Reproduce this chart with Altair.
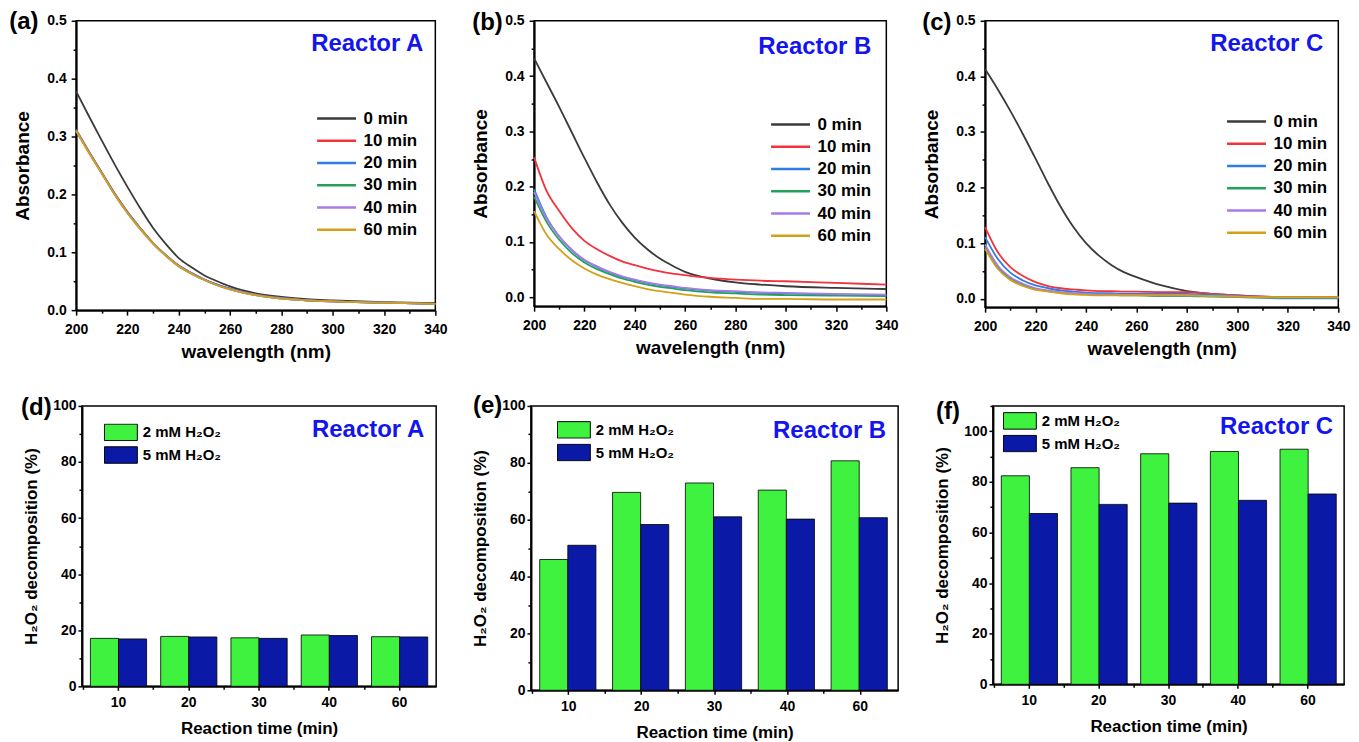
import altair as alt
import pandas as pd

FONT = "Liberation Sans"

# ---------------- data: UV-vis spectra ----------------
wavelengths = [200, 205, 210, 215, 220, 225, 230, 235, 240, 245, 250, 255, 260, 270, 280, 290, 300, 320, 340]
times = ["0 min", "10 min", "20 min", "30 min", "40 min", "60 min"]
line_colors = ["#3a3a3a", "#f2323c", "#2f7de1", "#23a15a", "#a77be8", "#d4a019"]

# Reactor A
absA_0 = [0.378, 0.335, 0.293, 0.252, 0.213, 0.176, 0.142, 0.114, 0.090, 0.074, 0.060, 0.050, 0.041, 0.029, 0.023, 0.019, 0.017, 0.014, 0.012]
absA_10 = [0.312, 0.274, 0.238, 0.202, 0.170, 0.142, 0.116, 0.095, 0.077, 0.064, 0.053, 0.044, 0.037, 0.027, 0.021, 0.017, 0.015, 0.013, 0.011]
absA_20 = [0.311, 0.273, 0.237, 0.201, 0.169, 0.141, 0.116, 0.095, 0.077, 0.064, 0.053, 0.044, 0.037, 0.027, 0.021, 0.017, 0.015, 0.013, 0.011]
absA_30 = [0.311, 0.273, 0.237, 0.201, 0.169, 0.141, 0.115, 0.094, 0.076, 0.063, 0.052, 0.043, 0.036, 0.026, 0.020, 0.017, 0.015, 0.013, 0.011]
absA_40 = [0.310, 0.272, 0.236, 0.200, 0.168, 0.140, 0.115, 0.094, 0.076, 0.063, 0.052, 0.043, 0.036, 0.026, 0.020, 0.017, 0.015, 0.013, 0.011]
absA_60 = [0.310, 0.272, 0.236, 0.200, 0.168, 0.140, 0.115, 0.094, 0.076, 0.063, 0.052, 0.043, 0.036, 0.026, 0.020, 0.017, 0.015, 0.013, 0.011]

# Reactor B
absB_0 = [0.432, 0.388, 0.344, 0.298, 0.252, 0.208, 0.168, 0.135, 0.108, 0.087, 0.070, 0.057, 0.046, 0.034, 0.027, 0.023, 0.020, 0.017, 0.015]
absB_10 = [0.253, 0.192, 0.156, 0.125, 0.102, 0.087, 0.075, 0.065, 0.058, 0.052, 0.047, 0.043, 0.040, 0.035, 0.032, 0.030, 0.029, 0.026, 0.023]
absB_20 = [0.195, 0.144, 0.110, 0.085, 0.067, 0.055, 0.045, 0.037, 0.031, 0.026, 0.022, 0.019, 0.016, 0.012, 0.010, 0.008, 0.007, 0.005, 0.003]
absB_30 = [0.182, 0.136, 0.104, 0.080, 0.063, 0.051, 0.042, 0.034, 0.028, 0.023, 0.019, 0.016, 0.013, 0.009, 0.007, 0.005, 0.004, 0.003, 0.002]
absB_40 = [0.190, 0.142, 0.110, 0.086, 0.068, 0.056, 0.046, 0.038, 0.032, 0.027, 0.023, 0.020, 0.017, 0.013, 0.011, 0.009, 0.008, 0.006, 0.005]
absB_60 = [0.156, 0.113, 0.087, 0.067, 0.052, 0.041, 0.033, 0.026, 0.020, 0.015, 0.011, 0.008, 0.005, 0.001, -0.001, -0.003, -0.003, -0.004, -0.004]

# Reactor C
absC_0 = [0.413, 0.377, 0.338, 0.296, 0.252, 0.207, 0.165, 0.129, 0.100, 0.078, 0.061, 0.048, 0.039, 0.024, 0.014, 0.009, 0.006, 0.003, 0.003]
absC_10 = [0.129, 0.084, 0.057, 0.041, 0.030, 0.023, 0.019, 0.017, 0.015, 0.014, 0.014, 0.013, 0.013, 0.012, 0.012, 0.009, 0.006, 0.003, 0.003]
absC_20 = [0.111, 0.072, 0.047, 0.033, 0.024, 0.019, 0.015, 0.013, 0.011, 0.010, 0.010, 0.009, 0.009, 0.009, 0.009, 0.007, 0.005, 0.003, 0.002]
absC_30 = [0.093, 0.057, 0.037, 0.025, 0.018, 0.014, 0.011, 0.009, 0.008, 0.007, 0.007, 0.006, 0.006, 0.005, 0.005, 0.004, 0.003, 0.001, 0.001]
absC_40 = [0.098, 0.060, 0.039, 0.027, 0.019, 0.015, 0.012, 0.010, 0.009, 0.008, 0.008, 0.007, 0.007, 0.006, 0.006, 0.005, 0.004, 0.002, 0.002]
absC_60 = [0.090, 0.054, 0.034, 0.023, 0.016, 0.013, 0.010, 0.008, 0.007, 0.006, 0.006, 0.006, 0.006, 0.006, 0.006, 0.005, 0.004, 0.003, 0.003]

# ---------------- data: H2O2 decomposition ----------------
bar_times = ["10", "20", "30", "40", "60"]
concs = ["2 mM H₂O₂", "5 mM H₂O₂"]
bar_colors = ["#3ff23f", "#0b1aa6"]

decA_2 = [17.1, 17.8, 17.3, 18.3, 17.7]
decA_5 = [16.9, 17.6, 17.1, 18.1, 17.6]
decB_2 = [46.0, 69.6, 72.9, 70.4, 80.7]
decB_5 = [51.0, 58.3, 61.0, 60.2, 60.7]
decC_2 = [82.4, 85.6, 91.1, 92.0, 92.9]
decC_5 = [67.5, 71.1, 71.6, 72.7, 75.2]

REACTOR_BLUE = "#1414ee"


def spectra_df(series):
    rows = []
    for t, vals in zip(times, series):
        for w, v in zip(wavelengths, vals):
            rows.append({"wl": w, "abs": v, "time": t})
    return pd.DataFrame(rows)


def bar_df(g, b):
    rows = []
    for t, gv, bv in zip(bar_times, g, b):
        rows.append({"time": t, "conc": concs[0], "val": gv})
        rows.append({"time": t, "conc": concs[1], "val": bv})
    return pd.DataFrame(rows)


def text_layer(txt, x, y, size, color, align):
    return alt.Chart(pd.DataFrame({"t": [txt]})).mark_text(
        align=align, baseline="middle", font=FONT, fontSize=size,
        fontWeight="bold", color=color
    ).encode(text="t:N", x=alt.value(x), y=alt.value(y))


def line_panel(series, ymin, label, reactor, w, h, lx, ly, lab_pos, r_pos):
    df = spectra_df(series)
    base = alt.Chart(df)
    xscale = alt.Scale(domain=[200, 340], nice=False, zero=False)
    yscale = alt.Scale(domain=[ymin, 0.5], nice=False, zero=False)
    lines = base.mark_line(strokeWidth=1.8, interpolate="monotone").encode(
        x=alt.X("wl:Q", scale=xscale,
                axis=alt.Axis(values=list(range(200, 341, 20)), title="wavelength (nm)",
                              labelFlush=False, tickSize=5, labelPadding=7,
                              titlePadding=6, titleFontSize=19, orient="bottom")),
        y=alt.Y("abs:Q", scale=yscale,
                axis=alt.Axis(values=[0.0, 0.1, 0.2, 0.3, 0.4, 0.5], format=".1f",
                              title="Absorbance", tickSize=5, labelPadding=5,
                              titlePadding=14, titleFontSize=19, orient="left")),
        color=alt.Color("time:N", scale=alt.Scale(domain=times, range=line_colors),
                        legend=alt.Legend(title=None, orient="none", legendX=lx, legendY=ly,
                                          symbolType="stroke", symbolSize=1521,
                                          symbolStrokeWidth=2.5, labelFontSize=17,
                                          labelFont=FONT, labelFontWeight="bold",
                                          labelColor="black", labelOffset=6,
                                          clipHeight=20, rowPadding=2.3)),
    )
    minor = base.mark_line(opacity=0).encode(
        x=alt.X("wl:Q", scale=xscale,
                axis=alt.Axis(values=list(range(210, 340, 20)), labels=False, title=None,
                              tickSize=3, domain=False, orient="bottom")),
        y=alt.Y("abs:Q", scale=yscale,
                axis=alt.Axis(values=[0.05, 0.15, 0.25, 0.35, 0.45], labels=False, title=None,
                              tickSize=3, domain=False, orient="left")),
    )
    lab = text_layer(label, lab_pos[0], lab_pos[1], 24, "black", "left")
    rlab = text_layer(reactor, w - r_pos[0], r_pos[1], 24, REACTOR_BLUE, "right")
    return alt.layer(lines, minor, lab, rlab).resolve_axis(
        x="independent", y="independent"
    ).properties(width=w, height=h)


def bar_panel(g, b, ymax, label, reactor, w, h, lx, ly, lab_pos, r_pos):
    df = bar_df(g, b)
    base = alt.Chart(df)
    xscale = alt.Scale(paddingInner=0.2, paddingOuter=0.12)
    yscale = alt.Scale(domain=[0, ymax], nice=False, zero=True)
    bars = base.mark_bar(stroke="black", strokeWidth=0.8).encode(
        x=alt.X("time:N", sort=bar_times, scale=xscale,
                axis=alt.Axis(labelAngle=0, title="Reaction time (min)", tickSize=4,
                              labelPadding=5, titlePadding=11, titleFontSize=17,
                              orient="bottom")),
        xOffset=alt.XOffset("conc:N", sort=concs, scale=alt.Scale(paddingInner=0, paddingOuter=0)),
        y=alt.Y("val:Q", scale=yscale,
                axis=alt.Axis(values=[0, 20, 40, 60, 80, 100], title="H₂O₂ decomposition (%)",
                              tickSize=4, labelPadding=2, titlePadding=12,
                              titleFontSize=17, orient="left")),
        color=alt.Color("conc:N", scale=alt.Scale(domain=concs, range=bar_colors),
                        legend=alt.Legend(title=None, orient="none", legendX=lx, legendY=ly,
                                          symbolType="M-1,-0.5H1V0.5H-1Z", symbolSize=1089,
                                          symbolStrokeColor="black", symbolStrokeWidth=1,
                                          symbolOpacity=1,
                                          labelFontSize=15, labelFont=FONT,
                                          labelFontWeight="bold", labelColor="black",
                                          labelOffset=5, clipHeight=18, rowPadding=4.7)),
    )
    minor_vals = [v for v in range(10, int(ymax) + 1, 20)]
    # minor ticks: between categories on x, at odd tens on y
    minor = base.mark_bar(opacity=0).encode(
        x=alt.X("time:N", sort=bar_times, scale=xscale,
                axis=alt.Axis(bandPosition=-0.125, labels=False, title=None, tickSize=3,
                              domain=False, orient="bottom")),
        xOffset=alt.XOffset("conc:N", sort=concs),
        y=alt.Y("val:Q", scale=yscale,
                axis=alt.Axis(values=minor_vals, labels=False, title=None, tickSize=3,
                              domain=False, orient="left")),
    )
    lab = text_layer(label, lab_pos[0], lab_pos[1], 24, "black", "left")
    rlab = text_layer(reactor, w - r_pos[0], r_pos[1], 24, REACTOR_BLUE, "right")
    return alt.layer(bars, minor, lab, rlab).resolve_axis(
        x="independent", y="independent"
    ).properties(width=w, height=h)


pa = line_panel([absA_0, absA_10, absA_20, absA_30, absA_40, absA_60], 0.0, "(a)", "Reactor A",
                360, 290, 240, 88, (-67, 1), (12, 23))
pb = line_panel([absB_0, absB_10, absB_20, absB_30, absB_40, absB_60], -0.016, "(b)", "Reactor B",
                353, 286, 236, 94, (-62, 2), (15, 26))
pc = line_panel([absC_0, absC_10, absC_20, absC_30, absC_40, absC_60], -0.015, "(c)", "Reactor C",
                354, 287, 241, 91, (-63, 2), (15, 23))

pd_ = bar_panel(decA_2, decA_5, 100, "(d)", "Reactor A", 355, 281, 22, 17.5, (-61, 2), (12, 24))
pe = bar_panel(decB_2, decB_5, 100, "(e)", "Reactor B", 368, 285, 26, 15, (-58, 0), (12, 25))
pf = bar_panel(decC_2, decC_5, 110, "(f)", "Reactor C", 352, 279, 10, 6, (-57, 6), (11, 21))

row1 = alt.hconcat(pa, pb, pc, spacing=22).resolve_scale(color="independent")
row2 = alt.hconcat(pd_, pe, pf, spacing=33).resolve_scale(color="independent")

chart = alt.vconcat(row1, row2, spacing=31, center=True).resolve_scale(
    color="independent"
).properties(
    padding={"left": 0, "top": 0, "right": 0, "bottom": 0}
).configure_view(
    stroke="black", strokeWidth=1.5
).configure_axis(
    labelFont=FONT, labelFontSize=14, labelFontWeight="bold", labelColor="black",
    titleFont=FONT, titleFontWeight="bold", titleColor="black",
    domainColor="black", domainWidth=2, tickColor="black", tickWidth=1.5, grid=False
).configure_legend(
    padding=0
)

chart.save("out.html", embed_options={"renderer": "svg", "actions": False})
